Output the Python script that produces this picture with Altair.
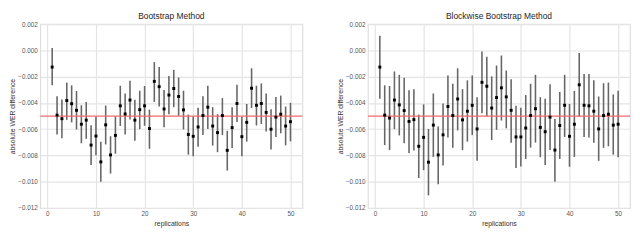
import altair as alt
import pandas as pd

# values in units of 0.001 (absolute WER difference)
SCALE = 1e-3
reps = list(range(1, 51))

boot_est = [-1.27, -4.93, -5.20, -3.82, -4.06, -4.56, -5.62, -5.31, -7.21, -6.52,
            -8.49, -5.67, -7.96, -6.47, -4.22, -4.84, -3.78, -5.31, -4.51, -4.22,
            -5.95, -2.36, -2.76, -4.46, -3.40, -2.90, -3.51, -4.53, -6.40, -6.54,
            -5.83, -4.96, -4.32, -5.76, -6.26, -4.96, -7.61, -5.88, -4.04, -6.57,
            -5.48, -2.88, -4.18, -4.04, -4.72, -6.00, -5.08, -4.86, -5.76, -5.43]
boot_low = [-2.66, -6.40, -6.69, -5.29, -5.48, -6.02, -7.07, -6.73, -8.72, -7.99,
            -10.00, -7.16, -9.38, -7.87, -5.76, -6.40, -5.27, -6.88, -6.00, -5.74,
            -7.49, -3.92, -4.27, -5.85, -4.86, -4.32, -4.98, -6.02, -7.94, -8.06,
            -7.33, -6.45, -5.98, -7.25, -7.75, -6.45, -9.15, -7.44, -5.46, -8.06,
            -6.95, -4.39, -5.72, -5.60, -6.17, -7.54, -6.59, -6.31, -7.23, -6.92]
boot_high = [0.18, -3.49, -3.73, -2.45, -2.66, -3.09, -4.18, -3.92, -5.69, -5.05,
             -6.95, -4.20, -6.54, -5.03, -2.69, -3.28, -2.31, -3.75, -3.07, -2.71,
             -4.51, -0.89, -1.27, -3.02, -1.95, -1.48, -2.07, -3.07, -4.89, -5.03,
             -4.37, -3.49, -2.69, -4.32, -4.86, -3.63, -6.12, -4.32, -2.62, -5.05,
             -4.08, -1.36, -2.69, -2.52, -3.28, -4.49, -3.54, -3.44, -4.27, -3.99]

block_est = [-1.27, -4.93, -5.15, -3.78, -4.15, -4.58, -5.41, -5.27, -7.30, -6.62,
             -8.51, -5.69, -7.96, -6.43, -4.27, -4.96, -3.70, -5.29, -4.63, -4.18,
             -5.98, -2.43, -2.73, -4.39, -3.59, -2.85, -3.54, -4.56, -6.59, -6.59,
             -5.91, -4.96, -4.44, -5.86, -6.19, -5.08, -7.59, -5.72, -4.18, -6.54,
             -5.62, -2.62, -4.18, -4.22, -4.63, -5.98, -4.96, -4.86, -5.69, -5.62]
block_low = [-3.68, -7.21, -7.59, -6.00, -6.47, -7.07, -7.82, -7.63, -9.72, -9.12,
             -11.04, -8.11, -10.19, -8.77, -6.64, -7.42, -6.09, -7.59, -6.95, -6.45,
             -8.41, -4.79, -5.03, -6.83, -6.05, -5.34, -5.93, -7.04, -8.96, -8.84,
             -8.27, -7.40, -7.02, -8.13, -8.72, -7.59, -10.00, -8.27, -6.59, -8.86,
             -8.11, -5.05, -6.59, -6.64, -7.04, -8.41, -7.42, -7.30, -7.94, -8.13]
block_high = [1.12, -2.66, -2.71, -1.60, -1.86, -2.09, -3.04, -2.95, -4.89, -4.11,
              -5.98, -3.28, -5.79, -4.04, -1.91, -2.54, -1.36, -2.95, -2.28, -1.91,
              -3.56, -0.08, -0.49, -1.98, -1.15, -0.39, -1.53, -2.19, -4.22, -4.37,
              -3.40, -2.54, -1.86, -3.56, -3.68, -2.57, -5.22, -3.16, -1.86, -4.08,
              -3.09, -0.20, -1.79, -1.79, -2.28, -3.51, -2.50, -2.45, -3.35, -3.07]

titles = ["Bootstrap Method", "Blockwise Bootstrap Method"]
reference_value = -0.005
y_ticks = [0.002, 0.0, -0.002, -0.004, -0.006, -0.008, -0.010, -0.012]
x_ticks = [0, 10, 20, 30, 40, 50]


def make_df(est, low, high):
    return pd.DataFrame({
        "rep": reps,
        "est": [v * SCALE for v in est],
        "low": [v * SCALE for v in low],
        "high": [v * SCALE for v in high],
    })


X_SCALE = alt.Scale(domain=[-1.45, 52.45], nice=False, zero=False)
Y_SCALE = alt.Scale(domain=[-0.012, 0.002], nice=False, zero=False)
X_AXIS = alt.Axis(values=x_ticks, format="d", labelOverlap=False, title="replications")
Y_AXIS = alt.Axis(values=y_ticks, format=".3f", title="absolute WER difference",
                  labelOverlap=False, labelFlush=False)


def panel(df, title):
    bars = alt.Chart(df).mark_rule(color="#666666", strokeWidth=1.6).encode(
        x=alt.X("rep:Q", scale=X_SCALE, axis=X_AXIS),
        y=alt.Y("low:Q", scale=Y_SCALE, axis=Y_AXIS),
        y2="high:Q",
    )
    pts = alt.Chart(df).mark_point(filled=True, color="black", size=9, opacity=1, shape="square").encode(
        x=alt.X("rep:Q", scale=X_SCALE, axis=X_AXIS),
        y=alt.Y("est:Q", scale=Y_SCALE, axis=Y_AXIS),
    )
    ref = alt.Chart(pd.DataFrame({"v": [reference_value]})).mark_rule(
        color="#f26b6b", strokeWidth=1.4
    ).encode(y=alt.Y("v:Q", scale=Y_SCALE, axis=Y_AXIS))
    return alt.layer(bars, ref, pts).properties(
        width=268, height=188, title=alt.TitleParams(title, fontSize=8.6, fontWeight="normal",
                                                     color="#262626", offset=1)
    )


left = panel(make_df(boot_est, boot_low, boot_high), titles[0])
right = panel(make_df(block_est, block_low, block_high), titles[1])

chart = alt.hconcat(left, right, spacing=32).properties(padding=0).configure(
    font="Liberation Sans"
).configure_view(
    stroke="#dedede", strokeWidth=1.2
).configure_axis(
    labelFontSize=6.5, labelColor="#555555", titleFontSize=7, titleFontWeight="normal",
    titleColor="#333333", grid=True, gridColor="#e4e4e4", gridWidth=1.2, ticks=False,
    domain=False, labelPadding=3, titlePadding=2
)

chart.save("out.html", embed_options={"renderer": "svg", "actions": False})
